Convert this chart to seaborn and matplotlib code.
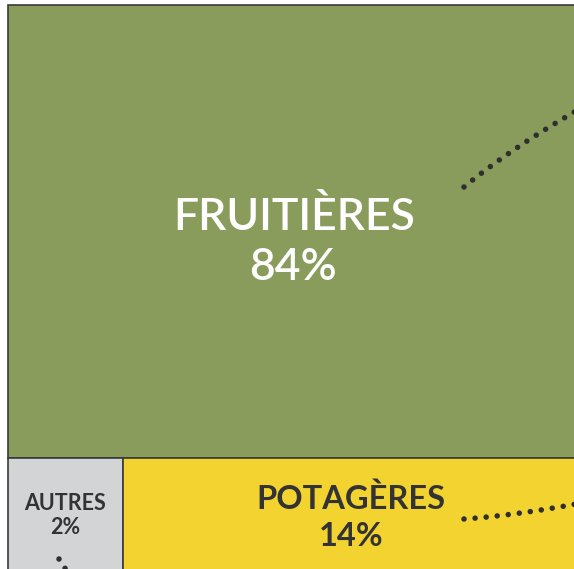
import numpy as np
import matplotlib
matplotlib.use("Agg")
import matplotlib.pyplot as plt
import seaborn as sns

# ---- data ----
categories = ["FRUITIÈRES", "AUTRES", "POTAGÈRES"]
values = [84, 2, 14]
colors = ["#8A9C5C", "#D3D4D6", "#F2D330"]
text_colors = ["white", "#333333", "#333333"]

sns.set_theme(style="white")
plt.rcParams["font.family"] = ["Lato", "DejaVu Sans"]

fig = plt.figure(figsize=(5.74, 5.69), dpi=100)
ax = fig.add_axes([0, 0, 1, 1])
ax.set_xlim(0, 574)
ax.set_ylim(569, 0)
ax.axis("off")

# ---- layout (treemap: top row = largest, bottom row split by value) ----
x0, y0 = 8, 5
total_w = 920
top_h = 453
bot_h = 160
edge = "#3a3a3a"

ax.bar(x0, top_h, width=total_w, bottom=y0, align="edge",
       color=colors[0], edgecolor=edge, linewidth=1.2)
bottom_vals = values[1:]
bw = [total_w * v / sum(bottom_vals) for v in bottom_vals]
bx = [x0, x0 + bw[0]]
for i in range(2):
    ax.bar(bx[i], bot_h, width=bw[i], bottom=y0 + top_h, align="edge",
           color=colors[i + 1], edgecolor=edge, linewidth=1.2)

# ---- labels ----
ax.text(294, 217, categories[0], color=text_colors[0], fontsize=32,
        ha="center", va="center", fontweight="semibold")
ax.text(293, 267, f"{values[0]}%", color=text_colors[0], fontsize=32,
        ha="center", va="center", fontweight="semibold")

ax.text(65, 503, categories[1], color=text_colors[1], fontsize=15.5,
        ha="center", va="center", fontweight="bold")
ax.text(65, 528, f"{values[1]}%", color=text_colors[1], fontsize=15.5,
        ha="center", va="center", fontweight="bold")

ax.text(351, 499, categories[2], color=text_colors[2], fontsize=23.5,
        ha="center", va="center", fontweight="bold")
ax.text(351, 537, f"{values[2]}%", color=text_colors[2], fontsize=23.5,
        ha="center", va="center", fontweight="bold")

# ---- dotted leader lines ----
def bez(p0, p1, p2, n=60):
    t = np.linspace(0, 1, n)[:, None]
    p0, p1, p2 = map(np.array, (p0, p1, p2))
    pts = (1 - t) ** 2 * p0 + 2 * (1 - t) * t * p1 + t ** 2 * p2
    return pts[:, 0], pts[:, 1]

for p in [((464, 187), (515, 145), (592, 102)),
          ((464, 519), (520, 515), (592, 501)),
          ((59, 559), (64, 566), (72, 580))]:
    xs, ys = bez(*p)
    ax.plot(xs, ys, color="#2f2f2f", linewidth=4.0,
            linestyle=(0, (0.001, 2.0)), dash_capstyle="round")

fig.savefig("out.png", dpi=100)
